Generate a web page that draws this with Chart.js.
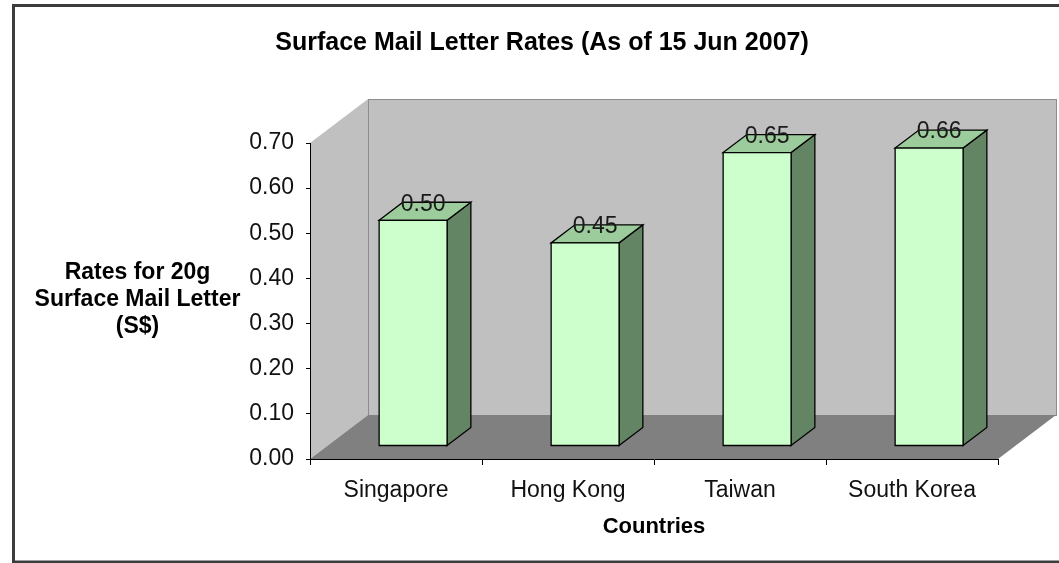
<!DOCTYPE html>
<html>
<head>
<meta charset="utf-8">
<script src="https://cdn.jsdelivr.net/npm/chart.js@4.4.1/dist/chart.umd.min.js"></script>
<style>
  html, body { margin: 0; padding: 0; background: #ffffff; }
  #wrap { width: 1059px; height: 563px; }
</style>
</head>
<body>
<div id="wrap"><canvas id="c" width="1059" height="563"></canvas></div>
<script>
// ---- data ----
const categories = ['Singapore', 'Hong Kong', 'Taiwan', 'South Korea'];
const rates = [0.50, 0.45, 0.65, 0.66];
const valueLabels = ['0.50', '0.45', '0.65', '0.66'];
const yTickLabels = ['0.00', '0.10', '0.20', '0.30', '0.40', '0.50', '0.60', '0.70'];
const chartTitle = 'Surface Mail Letter Rates (As of 15 Jun 2007)';
const yTitleLines = ['Rates for 20g', 'Surface Mail Letter', '(S$)'];
const xTitle = 'Countries';

// ---- styling ----
const FONT = "'Liberation Sans', Arial, Helvetica, sans-serif";
const DX = 58, DY = -44;          // depth of the 3D box
const F_FRONT = 0.295, F_BAR = 0.41; // bar position inside depth

function poly(ctx, pts) {
  ctx.beginPath();
  ctx.moveTo(pts[0][0], pts[0][1]);
  for (let i = 1; i < pts.length; i++) ctx.lineTo(pts[i][0], pts[i][1]);
  ctx.closePath();
}

const depth3d = {
  id: 'depth3d',
  beforeDraw(chart) {
    const ctx = chart.ctx;
    const { left, right, top, bottom } = chart.chartArea;
    ctx.save();
    // outer frame
    ctx.strokeStyle = '#3c3c3c';
    ctx.lineWidth = 3;
    ctx.strokeRect(13.5, 5.5, 1075, 556.5);
    // left wall
    ctx.fillStyle = '#c0c0c0';
    poly(ctx, [[left, top], [left + DX, top + DY], [left + DX, bottom + DY], [left, bottom]]);
    ctx.fill();
    // back wall
    ctx.fillStyle = '#c0c0c0';
    ctx.fillRect(left + DX, top + DY, right - left, bottom - top);
    ctx.strokeStyle = '#8c8c8c';
    ctx.lineWidth = 1;
    ctx.strokeRect(left + DX + 0.5, top + DY + 0.5, right - left, bottom - top);
    // floor
    ctx.fillStyle = '#808080';
    poly(ctx, [[left, bottom], [right, bottom], [right + DX, bottom + DY], [left + DX, bottom + DY]]);
    ctx.fill();
    ctx.restore();
  },
  afterDatasetsDraw(chart) {
    const ctx = chart.ctx;
    const meta = chart.getDatasetMeta(0);
    const fdx = DX * F_FRONT, fdy = DY * F_FRONT;
    const bdx = DX * F_BAR, bdy = DY * F_BAR;
    ctx.save();
    ctx.lineWidth = 1.3;
    ctx.strokeStyle = '#000000';
    ctx.lineJoin = 'miter';
    meta.data.forEach((el, i) => {
      const p = el.getProps(['x', 'y', 'base', 'width'], true);
      const l = p.x - p.width / 2 + fdx;
      const r = p.x + p.width / 2 + fdx;
      const t = p.y + fdy;
      const b = p.base + fdy;
      // side
      ctx.fillStyle = '#648564';
      poly(ctx, [[r, t], [r + bdx, t + bdy], [r + bdx, b + bdy], [r, b]]);
      ctx.fill(); ctx.stroke();
      // top
      ctx.fillStyle = '#9ccb9c';
      poly(ctx, [[l, t], [l + bdx, t + bdy], [r + bdx, t + bdy], [r, t]]);
      ctx.fill(); ctx.stroke();
      // front
      ctx.fillStyle = '#ccffcc';
      poly(ctx, [[l, t], [r, t], [r, b], [l, b]]);
      ctx.fill(); ctx.stroke();
      // value label
      ctx.fillStyle = '#1a1a1a';
      ctx.font = '23px ' + FONT;
      ctx.textAlign = 'center';
      ctx.textBaseline = 'middle';
      ctx.fillText(valueLabels[i], p.x + fdx + 10, t + bdy + 2);
    });
    ctx.restore();
  },
  afterDraw(chart) {
    const ctx = chart.ctx;
    ctx.save();
    ctx.fillStyle = '#000000';
    ctx.font = 'bold 23px ' + FONT;
    ctx.textAlign = 'center';
    ctx.textBaseline = 'middle';
    const ys = [273, 300, 327];
    yTitleLines.forEach((s, i) => ctx.fillText(s, 137.5, ys[i]));
    ctx.restore();
  }
};

new Chart(document.getElementById('c'), {
  type: 'bar',
  data: {
    labels: categories,
    datasets: [{
      data: rates,
      backgroundColor: 'rgba(0,0,0,0)',
      borderWidth: 0,
      barPercentage: 0.395,
      categoryPercentage: 1.0
    }]
  },
  options: {
    responsive: false,
    animation: false,
    layout: { padding: { left: 86, right: 61, top: 0, bottom: 0 } },
    plugins: {
      legend: { display: false },
      tooltip: { enabled: false },
      title: {
        display: true,
        text: chartTitle,
        color: '#000000',
        font: { family: FONT, size: 25, weight: 'bold' },
        padding: { top: 28, bottom: 85 }
      }
    },
    scales: {
      x: {
        offset: true,
        grid: { display: true, drawOnChartArea: false, drawTicks: true, tickLength: 6, color: '#000000', offset: true },
        border: { display: true, color: '#000000', width: 1 },
        ticks: {
          autoSkip: false, maxRotation: 0, minRotation: 0,
          color: '#111111', padding: 12,
          font: { family: FONT, size: 23 }
        },
        title: {
          display: true, text: xTitle, color: '#000000',
          font: { family: FONT, size: 22, weight: 'bold' },
          padding: { top: 0, bottom: 22.8 }
        },
        afterFit(scale) { scale.height = 104; }
      },
      y: {
        min: 0, max: 0.7,
        grid: { display: true, drawOnChartArea: false, drawTicks: true, tickLength: 4, color: '#000000' },
        border: { display: true, color: '#000000', width: 1 },
        ticks: {
          stepSize: 0.1,
          color: '#111111', padding: 12,
          font: { family: FONT, size: 23 },
          callback: (v, i) => yTickLabels[i]
        },
        afterFit(scale) { scale.width = 224; }
      }
    }
  },
  plugins: [depth3d]
});
</script>
</body>
</html>
